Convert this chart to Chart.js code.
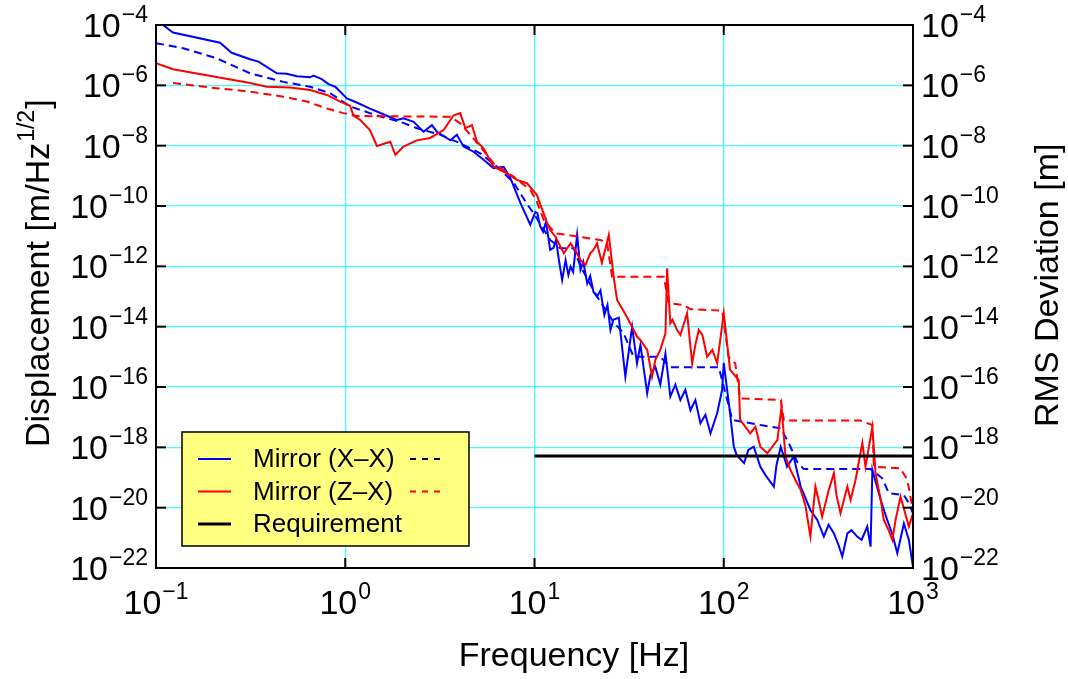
<!DOCTYPE html>
<html>
<head>
<meta charset="utf-8">
<title>Mirror displacement spectrum</title>
<script src="https://cdn.jsdelivr.net/npm/chart.js@4.4.1/dist/chart.umd.min.js"></script>
<style>
  html, body { margin: 0; padding: 0; background: #ffffff; }
  #wrap { width: 1068px; height: 679px; }
</style>
</head>
<body>
<div id="wrap"><canvas id="chart" width="1068" height="679"></canvas></div>
<script>
// Axis decades (tick labels are 10^n of these)
var xTicks = [0.1, 1, 10, 100, 1000];
var yTicks = [1e-22, 1e-20, 1e-18, 1e-16, 1e-14, 1e-12, 1e-10, 1e-8, 1e-6, 1e-4];

// Mirror (X-X) displacement spectrum [m/Hz^1/2]
var freqX = [0.1, 0.109, 0.123, 0.218, 0.251, 0.314, 0.348, 0.435, 0.491, 0.555,
             0.652, 0.679, 0.751, 0.815, 0.885, 1.02, 1.15, 1.35, 1.59, 1.87,
             2.03, 2.30, 2.59, 2.87, 3.05, 3.59, 3.89, 4.22, 4.76, 5.38,
             6.08, 6.87, 7.45, 8.41, 9.5, 10.1, 10.35, 10.7, 11.1, 11.5,
             12.1, 12.6, 13.0, 13.5, 14.0, 14.6, 15.1, 15.5, 16.0, 16.8,
             17.5, 18.1, 19.0, 19.7, 20.5, 21.4, 22.3, 23.4, 24.3, 25.2,
             26.1, 27.9, 30.2, 32.8, 34.8, 36.3, 39.4, 41.0, 43.5, 46.2,
             49.2, 52.2, 55.5, 59.0, 62.7, 66.7, 70.8, 75.3, 80.0, 85.1,
             92.3, 98, 100, 108, 113, 117, 128, 135, 144, 156,
             166, 184, 190, 200, 216, 234, 255, 287, 312, 338,
             358, 382, 404, 423, 450, 473, 507, 535, 573, 597,
             610, 675, 731, 780, 826, 895, 951, 1000];
var asdX = [1.2e-4, 1.0e-4, 5.6e-5, 2.6e-5, 1.2e-5, 7.3e-6, 6.1e-6, 2.5e-6, 2.4e-6, 2.0e-6,
            1.85e-6, 2.1e-6, 1.6e-6, 1.1e-6, 9.0e-7, 3.7e-7, 2.7e-7, 1.7e-7, 1.1e-7, 7.1e-8,
            8.1e-8, 6.2e-8, 2.9e-8, 4.8e-8, 2.9e-8, 1.5e-8, 2.3e-8, 9.3e-9, 6.3e-9, 3.4e-9,
            1.8e-9, 2.0e-9, 8.5e-10, 1.3e-10, 2.4e-11, 6.3e-11, 5.9e-11, 2.2e-11, 1.4e-11, 3.0e-11,
            3.5e-12, 4.1e-12, 7.5e-12, 1.4e-12, 3.5e-13, 1.6e-12, 5.2e-13, 9.8e-13, 6.5e-13, 1.1e-11,
            7.6e-13, 1.4e-12, 2.7e-13, 4.8e-13, 1.4e-13, 9.9e-14, 1.6e-13, 2.4e-14, 5.2e-14, 7.8e-15,
            1.7e-14, 2.0e-14, 2.2e-16, 1.0e-14, 6.1e-16, 2.5e-15, 6.2e-17, 2.5e-16, 4.7e-16, 1.2e-16,
            1.3e-15, 4.8e-17, 1.2e-16, 3.7e-17, 8.0e-17, 1.7e-17, 3.7e-17, 6.3e-18, 1.2e-17, 2.9e-18,
            1.35e-17, 8.0e-17, 6.3e-16, 1.35e-17, 1.05e-18, 5.6e-19, 3.0e-19, 8.2e-19, 1.05e-18, 2.3e-19,
            1.2e-19, 5.0e-20, 2.6e-19, 1.05e-18, 2.3e-19, 4.9e-19, 5.0e-20, 8.4e-21, 3.9e-21, 1.1e-21,
            2.7e-21, 1.4e-21, 5.8e-22, 2.4e-22, 1.4e-21, 1.8e-21, 1.1e-21, 8.5e-22, 2.35e-21, 5.1e-22,
            1.8e-19, 1.8e-20, 3.9e-21, 1.25e-21, 3.1e-22, 3.0e-21, 8.5e-22, 1.1e-22];

// Mirror (X-X) RMS deviation [m]
var rmsFreqX = [0.1, 0.139, 0.209, 0.314, 0.471, 0.652, 0.832, 1.06, 1.47, 1.95,
                2.39, 3.18, 4.05, 5.17, 6.34, 7.75, 9.1, 9.9, 12.1, 13.7,
                16.1, 17.5, 21.4, 26, 29.6, 33.4, 46.2, 52.2, 94.1, 111,
                156, 200, 221, 244, 265, 597, 688, 746, 895, 951, 1000];
var rmsX = [2.5e-5, 1.7e-5, 7.9e-6, 2.5e-6, 1.3e-6, 9.0e-7, 5.5e-7, 2.0e-7, 1.0e-7, 6.2e-8,
            3.8e-8, 2.3e-8, 1.2e-8, 5.6e-9, 2.0e-9, 6.0e-10, 1.2e-10, 5.7e-11, 7.5e-12, 4.0e-12,
            4.0e-12, 1.0e-12, 1.0e-13, 1.5e-14, 6.0e-15, 1.0e-15, 1.0e-15, 4.5e-16, 4.5e-16, 8.1e-18,
            5.5e-18, 4.3e-18, 1.36e-18, 3.35e-19, 1.9e-19, 1.9e-19, 9.4e-20, 3.0e-20, 2.6e-20, 1.4e-20, 6.5e-21];

// Mirror (Z-X) displacement spectrum [m/Hz^1/2]
var freqZ = [0.1, 0.123, 0.209, 0.314, 0.385, 0.511, 0.652, 0.799, 0.94, 1.06,
             1.105, 1.20, 1.35, 1.47, 1.73, 1.84, 2.03, 2.39, 2.81, 3.31,
             3.73, 4.05, 4.31, 4.67, 4.97, 5.38, 6.08, 7.15, 8.07, 9.12,
             10.3, 11.6, 12.1, 12.9, 14.3, 15.5, 16.4, 17.5, 18.6, 19.7,
             20.5, 21.4, 22.7, 24.7, 26.2, 27.3, 30.8, 34.8, 36.3, 39.4,
             41.8, 43.5, 46.2, 49.2, 50.2, 52.2, 53.5, 56.7, 59.0, 64.0,
             68.1, 70.8, 73.8, 77.1, 81.7, 87.1, 92.3, 100, 108, 120,
             122, 138, 147, 156, 170, 192, 202, 212, 225, 239,
             255, 270, 287, 305, 317, 331, 359, 382, 394, 414,
             450, 468, 497, 540, 561, 610, 634, 675, 701, 743,
             778, 809, 859, 951, 1000];
var asdZ = [5.4e-6, 3.4e-6, 1.9e-6, 1.2e-6, 9.0e-7, 8.4e-7, 7.0e-7, 4.8e-7, 2.9e-7, 2.1e-7,
            1.0e-7, 7.1e-8, 3.3e-8, 9.8e-9, 1.35e-8, 4.9e-9, 9.3e-9, 1.5e-8, 1.8e-8, 3.3e-8,
            1.0e-7, 1.2e-7, 3.8e-8, 4.8e-8, 1.35e-8, 8.2e-9, 2.0e-9, 1.2e-9, 7.3e-10, 5.7e-10,
            2.3e-10, 3.0e-11, 1.6e-11, 9.6e-12, 2.7e-12, 5.8e-12, 3.5e-12, 1.6e-12, 1.1e-12, 2.7e-12,
            3.5e-12, 5.8e-12, 1.3e-12, 1.1e-11, 4.5e-13, 7.7e-14, 2.1e-14, 4.7e-15, 3.6e-15, 1.7e-15,
            2.2e-16, 7.9e-16, 1.7e-15, 6.0e-15, 8.6e-13, 1.3e-14, 1.7e-14, 7.8e-15, 5.3e-15, 2.8e-14,
            6.1e-16, 2.5e-15, 7.8e-15, 5.3e-15, 1.0e-15, 1.7e-15, 6.1e-16, 2.8e-14, 3.7e-16, 1.7e-16,
            8.1e-18, 2.9e-18, 4.8e-18, 1.05e-18, 6.4e-19, 1.75e-18, 2.2e-17, 4.9e-19, 1.8e-19, 8.3e-20,
            3.9e-20, 1.2e-20, 1.1e-21, 5.0e-20, 1.8e-20, 5.0e-21, 3.9e-20, 1.4e-19, 2.6e-20, 6.5e-21,
            5.0e-20, 1.8e-20, 8.3e-20, 1.4e-18, 2.3e-19, 4.8e-18, 1.4e-19, 1.8e-20, 3.9e-21, 1.8e-21,
            8.5e-22, 3.9e-21, 2.3e-20, 2.35e-21, 6.5e-21];

// Mirror (Z-X) RMS deviation [m]
var rmsFreqZ = [0.123, 0.209, 0.314, 0.471, 0.627, 0.799, 0.978, 1.15, 3.59, 4.05,
                4.58, 5.17, 6.08, 7.75, 9.5, 10.2, 11.2, 12.9, 22.3, 24.2,
                25.7, 48.2, 51.2, 61.4, 66.7, 98.2, 106, 115, 122, 200,
                208, 528, 610, 621, 859, 933, 991];
var rmsZ = [1.2e-6, 8.0e-7, 6.2e-7, 4.2e-7, 2.9e-7, 1.7e-7, 1.2e-7, 9.6e-8, 9.1e-8, 5.5e-8,
            2.3e-8, 9.3e-9, 2.6e-9, 9.4e-10, 3.4e-10, 1.6e-10, 3.4e-11, 1.25e-11, 7.5e-12, 5.8e-12,
            4.5e-13, 4.5e-13, 6.0e-14, 5.2e-14, 3.8e-14, 3.4e-14, 1.0e-15, 6.1e-16, 4.2e-17, 3.7e-17,
            7.7e-18, 7.7e-18, 5.5e-18, 2.3e-19, 2.0e-19, 8.3e-20, 1.1e-20];

// Requirement level
var reqFreq = [10, 1000];
var reqLevel = [5.2e-19, 5.2e-19];

var FONT = '"Liberation Sans", Arial, Helvetica, sans-serif';

function pts(xs, ys) {
    return xs.map(function(x, i) { return { x: x, y: ys[i] }; });
}

function supLabel(exp) {
    return String(exp).replace('-', '\u2212');
}

// Draw "10" with a raised exponent; anchor is the baseline of "10"
function drawPow(ctx, exp, x, y, align) {
    var sup = supLabel(exp);
    ctx.font = '34px ' + FONT;
    var wb = ctx.measureText('10').width;
    ctx.font = '23px ' + FONT;
    var ws = ctx.measureText(sup).width;
    var total = wb + 1 + ws;
    var left = x;
    if (align === 'right') left = x - total;
    if (align === 'center') left = x - total / 2;
    ctx.textAlign = 'left';
    ctx.textBaseline = 'alphabetic';
    ctx.font = '34px ' + FONT;
    ctx.fillText('10', left, y);
    ctx.font = '23px ' + FONT;
    ctx.fillText(sup, left + wb + 1, y - 15);
}

function segment(ctx, x1, y1, x2, y2) {
    ctx.beginPath();
    ctx.moveTo(x1, y1);
    ctx.lineTo(x2, y2);
    ctx.stroke();
}

var decorations = {
    id: 'decorations',
    afterDraw: function(chart) {
        var ctx = chart.ctx;
        var a = chart.chartArea;
        var xs = chart.scales.x, ys = chart.scales.y;
        ctx.save();

        // frame and inward tick marks
        ctx.strokeStyle = '#000000';
        ctx.lineWidth = 2;
        ctx.strokeRect(a.left, a.top, a.right - a.left, a.bottom - a.top);
        yTicks.forEach(function(v) {
            var py = ys.getPixelForValue(v);
            segment(ctx, a.left, py, a.left + 10, py);
            segment(ctx, a.right - 10, py, a.right, py);
        });
        xTicks.forEach(function(v) {
            var px = xs.getPixelForValue(v);
            segment(ctx, px, a.bottom, px, a.bottom - 10);
            segment(ctx, px, a.top, px, a.top + 10);
        });

        // tick labels
        ctx.fillStyle = '#000000';
        yTicks.forEach(function(v) {
            var py = ys.getPixelForValue(v);
            var e = Math.round(Math.log10(v));
            drawPow(ctx, e, a.left - 8, py + 12, 'right');
            drawPow(ctx, e, a.right + 8, py + 12, 'left');
        });
        xTicks.forEach(function(v) {
            var px = xs.getPixelForValue(v);
            drawPow(ctx, Math.round(Math.log10(v)), px, a.bottom + 46, 'center');
        });

        // axis titles
        ctx.font = '34px ' + FONT;
        ctx.textAlign = 'center';
        ctx.textBaseline = 'alphabetic';
        ctx.fillText('Frequency [Hz]', 574, 666);

        ctx.save();
        ctx.translate(49, 447);
        ctx.rotate(-Math.PI / 2);
        ctx.textAlign = 'left';
        ctx.font = '34px ' + FONT;
        var t1 = 'Displacement [m/Hz';
        ctx.fillText(t1, 0, 0);
        var w1 = ctx.measureText(t1).width;
        ctx.font = '23px ' + FONT;
        ctx.fillText('1/2', w1 + 1, -15);
        var w2 = ctx.measureText('1/2').width;
        ctx.font = '34px ' + FONT;
        ctx.fillText(']', w1 + w2 + 2, 0);
        ctx.restore();

        ctx.save();
        ctx.translate(1058, 427);
        ctx.rotate(-Math.PI / 2);
        ctx.textAlign = 'left';
        ctx.font = '34px ' + FONT;
        ctx.fillText('RMS Deviation [m]', 0, 0);
        ctx.restore();

        // legend box
        var lx = 182, ly = 432, lw = 287, lh = 114;
        ctx.fillStyle = '#ffff80';
        ctx.fillRect(lx, ly, lw, lh);
        ctx.strokeStyle = '#000000';
        ctx.lineWidth = 1.5;
        ctx.strokeRect(lx, ly, lw, lh);

        var rows = [
            { text: 'Mirror (X\u2013X)', color: '#0000ff', width: 2, dash: '#000000' },
            { text: 'Mirror (Z\u2013X)', color: '#ff0000', width: 2, dash: '#ff0000' },
            { text: 'Requirement', color: '#000000', width: 3, dash: null }
        ];
        ctx.font = '26px ' + FONT;
        ctx.textAlign = 'left';
        ctx.textBaseline = 'middle';
        rows.forEach(function(r, i) {
            var ry = 459 + i * 32.5;
            ctx.strokeStyle = r.color;
            ctx.lineWidth = r.width;
            segment(ctx, 198, ry, 231, ry);
            ctx.fillStyle = '#000000';
            ctx.fillText(r.text, 253, ry + 1);
            if (r.dash) {
                ctx.strokeStyle = r.dash;
                ctx.lineWidth = 2;
                ctx.setLineDash([6, 6]);
                segment(ctx, 410, ry, 442, ry);
                ctx.setLineDash([]);
            }
        });

        ctx.restore();
    }
};

var gridColor = '#40ffff';

new Chart(document.getElementById('chart').getContext('2d'), {
    type: 'line',
    data: {
        datasets: [
            { label: 'Requirement', data: pts(reqFreq, reqLevel), borderColor: '#000000', borderWidth: 3, yAxisID: 'y' },
            { label: 'Mirror (Z\u2013X)', data: pts(freqZ, asdZ), borderColor: '#ff0000', yAxisID: 'y' },
            { label: 'Mirror (Z\u2013X) RMS', data: pts(rmsFreqZ, rmsZ), borderColor: '#ff0000', borderDash: [8, 5], yAxisID: 'y2' },
            { label: 'Mirror (X\u2013X)', data: pts(freqX, asdX), borderColor: '#0000ff', yAxisID: 'y' },
            { label: 'Mirror (X\u2013X) RMS', data: pts(rmsFreqX, rmsX), borderColor: '#0000ff', borderDash: [8, 5], yAxisID: 'y2' }
        ]
    },
    options: {
        responsive: false,
        animation: false,
        devicePixelRatio: 1,
        layout: { padding: { top: 25, left: 0, right: 0, bottom: 0 } },
        elements: {
            point: { radius: 0, hoverRadius: 0 },
            line: { tension: 0, borderWidth: 2, fill: false }
        },
        plugins: {
            legend: { display: false },
            tooltip: { enabled: false }
        },
        scales: {
            x: {
                type: 'logarithmic',
                min: 0.1,
                max: 1000,
                ticks: { display: false },
                grid: { color: gridColor, lineWidth: 1.3, drawTicks: false },
                border: { display: false },
                afterBuildTicks: function(s) { s.ticks = xTicks.map(function(v) { return { value: v }; }); },
                afterFit: function(s) { s.height = 111; }
            },
            y: {
                type: 'logarithmic',
                position: 'left',
                min: 1e-22,
                max: 1e-4,
                ticks: { display: false },
                grid: { color: gridColor, lineWidth: 1.3, drawTicks: false },
                border: { display: false },
                afterBuildTicks: function(s) { s.ticks = yTicks.map(function(v) { return { value: v }; }); },
                afterFit: function(s) { s.width = 156; }
            },
            y2: {
                type: 'logarithmic',
                position: 'right',
                min: 1e-22,
                max: 1e-4,
                ticks: { display: false },
                grid: { display: false, drawTicks: false },
                border: { display: false },
                afterBuildTicks: function(s) { s.ticks = yTicks.map(function(v) { return { value: v }; }); },
                afterFit: function(s) { s.width = 155; }
            }
        }
    },
    plugins: [decorations]
});
</script>
</body>
</html>
